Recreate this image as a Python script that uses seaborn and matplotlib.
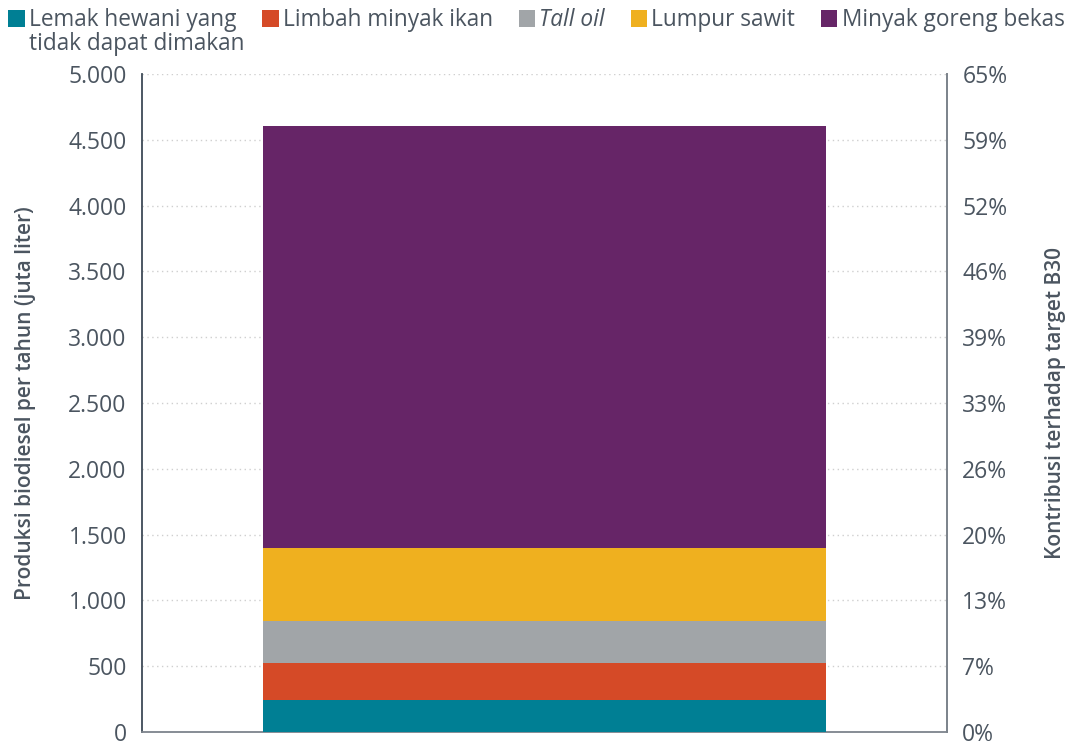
import numpy as np
import pandas as pd
import matplotlib
matplotlib.use("Agg")
import matplotlib.pyplot as plt
import seaborn as sns
from matplotlib.patches import Patch

# ---- data ----
sources = ["Lemak hewani yang", "Limbah minyak ikan", "Tall oil", "Lumpur sawit", "Minyak goreng bekas"]
values = [245, 280, 315, 560, 3205]  # juta liter per tahun
colors = ["#007f94", "#d54a27", "#a1a5a8", "#efb01f", "#662567"]
category = ["Total"]
left_ticks = [0, 500, 1000, 1500, 2000, 2500, 3000, 3500, 4000, 4500, 5000]
left_labels = ["0", "500", "1.000", "1.500", "2.000", "2.500", "3.000", "3.500", "4.000", "4.500", "5.000"]
right_labels = ["0%", "7%", "13%", "20%", "26%", "33%", "39%", "46%", "52%", "59%", "65%"]
legend_second_line = "tidak dapat dimakan"

sns.set_theme(style="white")
plt.rcParams["font.family"] = ["Open Sans", "DejaVu Sans"]
txt = "#4b5560"

fig = plt.figure(figsize=(10.66, 7.45), dpi=100)
ax = fig.add_axes([142 / 1066, 13 / 745, (947 - 142) / 1066, (732 - 74) / 745])

cum = np.cumsum(values)
df = pd.DataFrame({"cat": category * len(values), "src": sources, "cum": cum})
for i in range(len(values) - 1, -1, -1):
    sns.barplot(data=df.iloc[[i]], x="cat", y="cum", color=colors[i], saturation=1,
                width=0.7, ax=ax, zorder=3, linewidth=0)

ax.set_xlim(-0.5, 0.5)
ax.set_ylim(0, 5000)
ax.set_yticks(left_ticks, labels=left_labels)
ax.set_xticks([])
ax.set_xlabel("")
ax.set_ylabel("Produksi biodiesel per tahun (juta liter)", fontsize=15, color=txt,
              fontweight="semibold", labelpad=23)
ax.tick_params(axis="y", length=0, labelsize=16.5, labelcolor=txt, pad=11)
for y in left_ticks[1:]:
    ax.axhline(y, color="#cfcfcf", linestyle=(0, (1, 2.5)), linewidth=1, zorder=1)

for s in ["top"]:
    ax.spines[s].set_visible(False)
ax.spines["left"].set_color("#3e4a57")
ax.spines["bottom"].set_color("#7d848c")
ax.spines["right"].set_color("#7d848c")
for s in ["left", "bottom", "right"]:
    ax.spines[s].set_linewidth(1.3)

ax2 = ax.twinx()
ax2.set_ylim(0, 5000)
ax2.set_yticks(left_ticks, labels=right_labels)
ax2.tick_params(axis="y", length=0, labelsize=16.5, labelcolor=txt, pad=11)
ax2.set_ylabel("Kontribusi terhadap target B30", fontsize=15, color=txt,
               fontweight="semibold", rotation=90, labelpad=27)
for s in ["top", "left", "bottom"]:
    ax2.spines[s].set_visible(False)
ax2.spines["right"].set_color("#7d848c")
ax2.spines["right"].set_linewidth(1.3)
ax2.grid(False)

handles = [Patch(facecolor=c, edgecolor="none") for c in colors]
leg = fig.legend(handles, sources, loc="upper left", bbox_to_anchor=(-0.007, 1.01), ncol=5,
                 frameon=False, fontsize=16.3, handlelength=0.72, handleheight=0.72,
                 handletextpad=0.18, columnspacing=1.15, labelcolor=txt, borderaxespad=0.3)
leg.get_texts()[2].set_fontstyle("italic")

fig.canvas.draw()
r = fig.canvas.get_renderer()
bb = leg.get_texts()[0].get_window_extent(r)
x0, y0 = fig.transFigure.inverted().transform((bb.x0, bb.y0))
fig.text(x0, y0 + 0.001, legend_second_line, fontsize=16.3, color=txt, ha="left", va="top")

fig.savefig("out.png", dpi=100)
